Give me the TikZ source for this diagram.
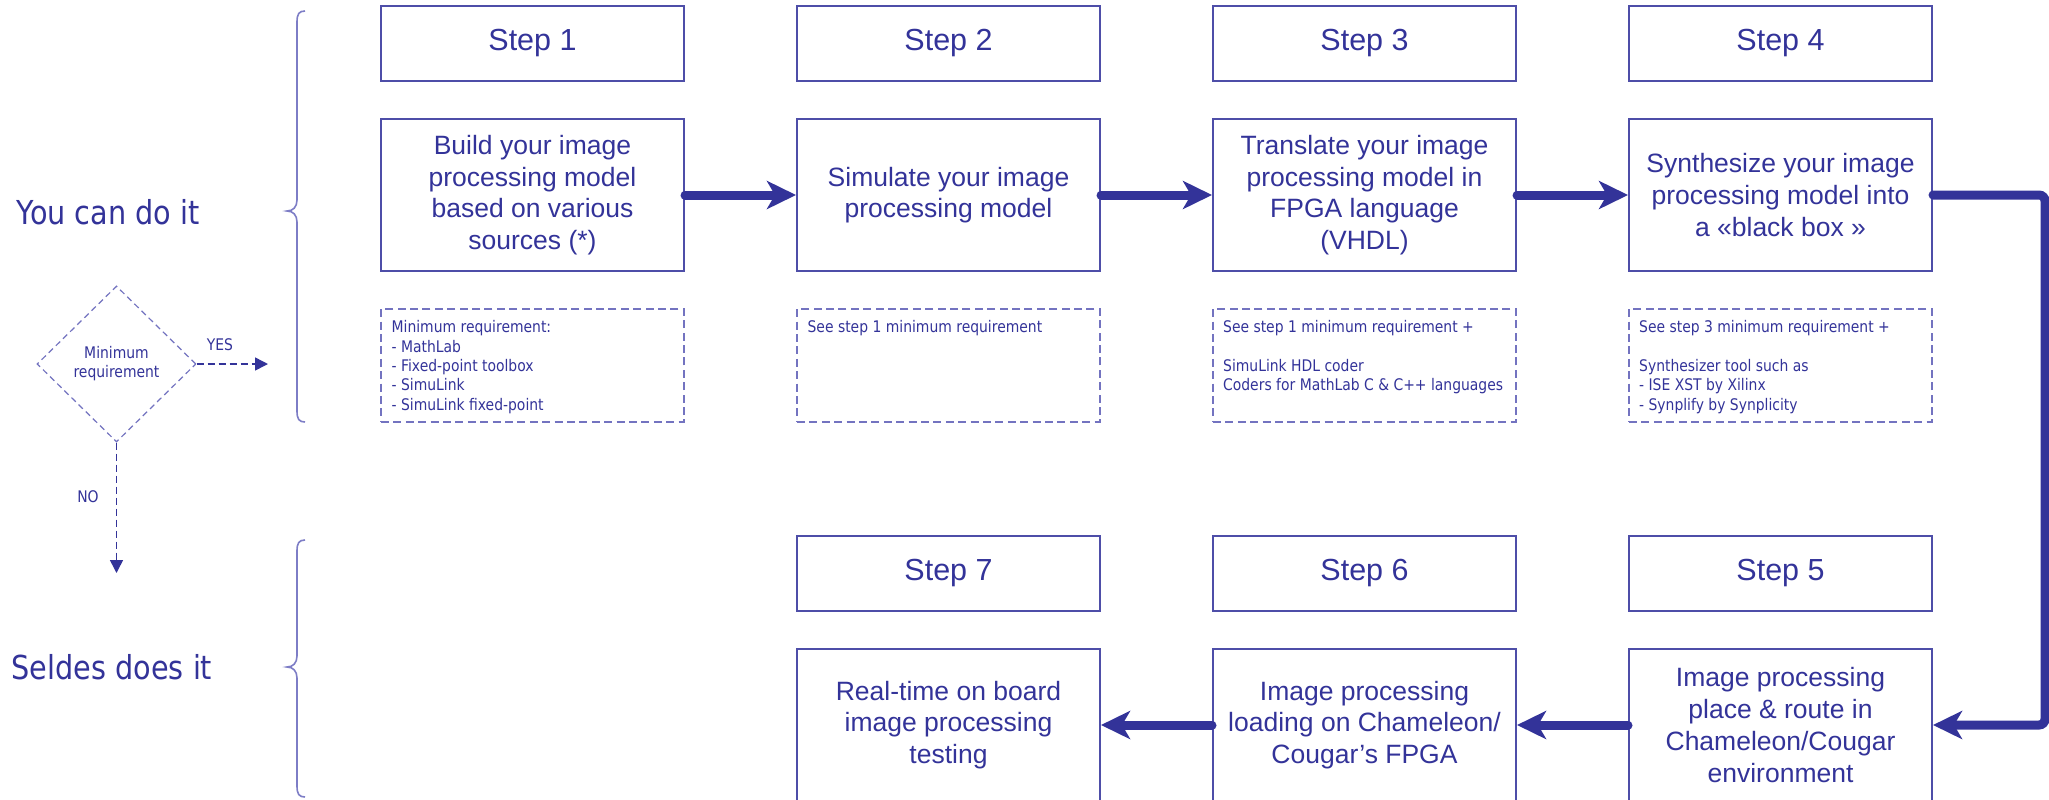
\documentclass[tikz,border=0pt]{standalone}
\usepackage{fontspec}
\setmainfont{Liberation Sans}
\newfontfamily\tah{DejaVu Sans}[FakeStretch=0.87]
\usetikzlibrary{arrows.meta,shapes.geometric,calc}
\definecolor{txt}{RGB}{51,51,153}
\definecolor{boxc}{RGB}{78,78,168}
\definecolor{dashc}{RGB}{115,115,192}
\definecolor{bracec}{RGB}{125,125,198}
\begin{document}
\begin{tikzpicture}[x=0.5bp,y=-0.5bp,
  hdr/.style={draw=boxc, line width=1bp, minimum width=151.5bp, minimum height=37.5bp, inner sep=0pt, text=txt, font=\fontsize{15.3}{18}\selectfont},
  mbox/.style={draw=boxc, line width=1bp, minimum width=151.5bp, minimum height=76bp, inner sep=0pt, text=txt, align=center, font=\fontsize{13.3}{15.9}\selectfont},
  dbox/.style={draw=dashc, line width=0.75bp, dash pattern=on 4bp off 2.2bp, minimum width=151.5bp, minimum height=56.5bp, inner sep=0pt},
  dtext/.style={anchor=north west, inner sep=0pt, text=txt, align=left, font=\tah\fontsize{8.03}{9.69}\selectfont},
  side/.style={inner sep=0pt, text=txt, font=\tah\fontsize{16.55}{20}\selectfont},
  lbl/.style={inner sep=0pt, text=txt, font=\tah\fontsize{8.03}{9.5}\selectfont},
  flow/.style={draw=txt, line width=4.5bp, line cap=round, -{Stealth[length=14.5bp,width=14bp,inset=4bp]}},
  yesno/.style={draw=txt, line width=0.75bp, dash pattern=on 3.5bp off 2bp, -{Triangle[length=6.5bp,width=6.5bp]}},
  brc/.style={draw=bracec, line width=0.8bp}
]
\useasboundingbox (0,0) rectangle (2049,799);
\fill[white] (0,0) rectangle (2049,799);

% headers
\node[hdr] (h1) at (532.5,43.5) {Step 1};
\node[hdr] (h2) at (948.5,43.5) {Step 2};
\node[hdr] (h3) at (1364.5,43.5) {Step 3};
\node[hdr] (h4) at (1780.5,43.5) {Step 4};
\node[hdr] (h5) at (1780.5,573) {Step 5};
\node[hdr] (h6) at (1364.5,573) {Step 6};
\node[hdr] (h7) at (948.5,573) {Step 7};

% main boxes
\node[mbox] (m1) at (532.5,195) {Build your image\\processing model\\based on various\\sources (*)};
\node[mbox] (m2) at (948.5,195) {Simulate your image\\processing model};
\node[mbox] (m3) at (1364.5,195) {Translate your image\\processing model in\\FPGA language\\(VHDL)};
\node[mbox] (m4) at (1780.5,195) {Synthesize your image\\processing model into\\a «black box »};
\node[mbox] (m5) at (1780.5,725) {Image processing\\place \& route in\\Chameleon/Cougar\\environment};
\node[mbox] (m6) at (1364.5,725) {Image processing\\loading on Chameleon/\\Cougar’s FPGA};
\node[mbox] (m7) at (948.5,725) {Real-time on board\\image processing\\testing};

% dashed requirement boxes
\node[dbox] (d1) at (532.5,365.5) {};
\node[dbox] (d2) at (948.5,365.5) {};
\node[dbox] (d3) at (1364.5,365.5) {};
\node[dbox] (d4) at (1780.5,365.5) {};
\node[dtext] (t1) at ($(d1.north west)+(11,12)$) {Minimum requirement:\\- MathLab\\- Fixed-point toolbox\\- SimuLink\\- SimuLink fixed-point};
\node[dtext] (t2) at ($(d2.north west)+(11,12)$) {See step 1 minimum requirement};
\node[dtext] (t3) at ($(d3.north west)+(10.5,12)$) {See step 1 minimum requirement +\\[9.69pt]SimuLink HDL coder\\Coders for MathLab C \& C++ languages};
\node[dtext] (t4) at ($(d4.north west)+(10.5,12)$) {See step 3 minimum requirement +\\[9.69pt]Synthesizer tool such as\\- ISE XST by Xilinx\\- Synplify by Synplicity};

% flow arrows
\draw[flow] (m1.east) -- (m2.west);
\draw[flow] (m2.east) -- (m3.west);
\draw[flow] (m3.east) -- (m4.west);
\draw[flow, rounded corners=3bp] (m4.east) -- ++(112,0) |- (m5.east);
\draw[flow] (m5.west) -- (m6.east);
\draw[flow] (m6.west) -- (m7.east);

% left side
\node[side] (you) at (108,212) {You can do it};
\node[side] (sel) at (112,667) {Seldes does it};
\node[diamond, draw=dashc, line width=0.6bp, dash pattern=on 3bp off 2bp, minimum width=79.5bp, minimum height=78bp, inner sep=0pt, aspect=1, text=txt, align=center, font=\tah\fontsize{8.03}{9.6}\selectfont] (dm) at (116.5,364) {Minimum\\requirement};
\coordinate (yesend) at (268,364);
\coordinate (noend) at (116.5,573);
\draw[yesno] (dm.east) -- (yesend);
\draw[yesno] (dm.south) -- (noend);
\node[lbl] (yes) at (220,345) {YES};
\node[lbl] (no) at (88,497) {NO};

% braces
\draw[brc] (305,11) .. controls (299,11) and (297,14) .. (297,22) -- (297,200)
  .. controls (297,207) and (293,211) .. (287,211)
  .. controls (293,211) and (297,215) .. (297,222) -- (297,411)
  .. controls (297,419) and (299,422) .. (305,422);
\draw[brc] (305,540) .. controls (299,540) and (297,543) .. (297,551) -- (297,656)
  .. controls (297,663) and (293,667) .. (287,667)
  .. controls (293,667) and (297,671) .. (297,678) -- (297,786)
  .. controls (297,794) and (299,797) .. (305,797);
\end{tikzpicture}
\end{document}
